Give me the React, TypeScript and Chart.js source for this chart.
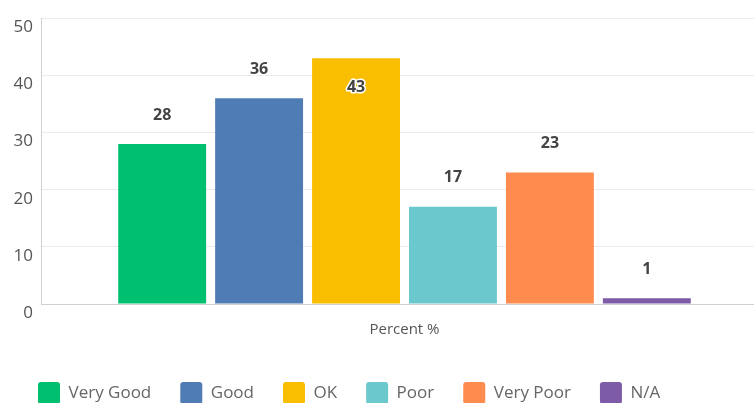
import React, { useEffect, useRef } from "react";
import { Chart, registerables } from "chart.js";

Chart.register(...registerables);

const categories = ["Percent %"];
const seriesNames = ["Very Good", "Good", "OK", "Poor", "Very Poor", "N/A"];
const seriesValues = [28, 36, 43, 17, 23, 1];
const seriesColors = ["#00BF6F", "#507CB6", "#F9BE00", "#6BC8CD", "#FF8B4F", "#7D5BA6"];
const yTicks = { min: 0, max: 50, step: 10 };

const valueLabelPlugin = {
  id: "valueLabels",
  afterDatasetsDraw(chart: any) {
    const { ctx, chartArea } = chart;
    ctx.save();
    ctx.font = "bold 16px 'Open Sans', sans-serif";
    ctx.textAlign = "center";
    ctx.textBaseline = "middle";
    chart.data.datasets.forEach((ds: any, i: number) => {
      const meta = chart.getDatasetMeta(i);
      meta.data.forEach((bar: any, j: number) => {
        const v = ds.data[j];
        let y = bar.y - 29;
        if (y < chartArea.top + 30) y = bar.y + 29;
        ctx.lineWidth = 3;
        ctx.strokeStyle = "#ffffff";
        ctx.lineJoin = "round";
        ctx.strokeText(String(v), bar.x, y);
        ctx.fillStyle = "#444444";
        ctx.fillText(String(v), bar.x, y);
      });
    });
    ctx.restore();
  },
};

export default function App() {
  const ref = useRef<HTMLCanvasElement | null>(null);
  useEffect(() => {
    document.documentElement.style.overflow = "hidden";
    document.body.style.overflow = "hidden";
    const chart = new Chart(ref.current as HTMLCanvasElement, {
      type: "bar",
      data: {
        labels: categories,
        datasets: seriesNames.map((name, i) => ({
          label: name,
          data: [seriesValues[i]],
          backgroundColor: seriesColors[i],
          borderWidth: 0,
          categoryPercentage: 0.8,
          barPercentage: 0.907,
        })),
      },
      options: {
        animation: false,
        responsive: false,
        maintainAspectRatio: false,
        layout: { padding: { top: 13, left: 9, right: 2, bottom: -11 } },
        plugins: {
          tooltip: { enabled: false },
          legend: {
            position: "bottom",
            align: "start",
            labels: {
              boxWidth: 22,
              boxHeight: 22,
              padding: 29,
              useBorderRadius: true,
              borderRadius: 3,
              color: "#666666",
              font: { family: "'Open Sans', sans-serif", size: 17 },
            },
          },
        },
        scales: {
          x: {
            grid: { display: false, drawTicks: false },
            border: { color: "#d0d0d0" },
            ticks: {
              padding: 17,
              color: "#555555",
              font: { family: "'Open Sans', sans-serif", size: 15 },
            },
            afterFit(scale: any) {
              scale.height = 49;
            },
          },
          y: {
            min: yTicks.min,
            max: yTicks.max,
            grid: { color: "#ebebeb", drawTicks: false },
            border: { color: "#d0d0d0" },
            ticks: {
              stepSize: yTicks.step,
              padding: 8,
              labelOffset: 9,
              color: "#555555",
              font: { family: "'Open Sans', sans-serif", size: 17 },
            },
            afterFit(scale: any) {
              scale.width = 32;
            },
          },
        },
      },
      plugins: [valueLabelPlugin],
    } as any);
    return () => chart.destroy();
  }, []);
  return (
    <div style={{ position: "absolute", left: 0, top: 0, width: 770, height: 403, background: "#fff" }}>
      <canvas ref={ref} width={770} height={403} style={{ display: "block", width: 770, height: 403 }} />
    </div>
  );
}
